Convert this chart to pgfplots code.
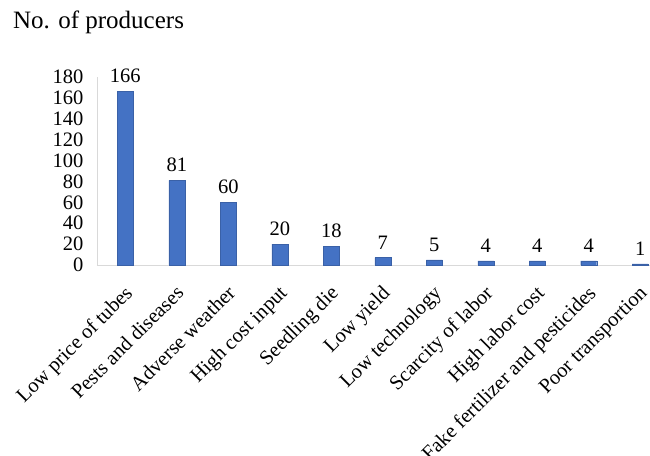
\documentclass[border=0pt]{standalone}
\usepackage{pgfplots}
\pgfplotsset{compat=1.18}
\usepackage{fontspec}
\setmainfont{Liberation Serif}
\definecolor{barblue}{HTML}{4472C4}
\definecolor{axgray}{HTML}{D9D9D9}
\begin{document}
\begin{tikzpicture}[x=1bp,y=1bp]
\useasboundingbox (-97,-191) rectangle (553,265);
\begin{axis}[
  at={(0,0)}, anchor=south west,
  scale only axis, width=553bp, height=188bp,
  xmin=-0.55, xmax=10.19, ymin=0, ymax=180,
  ytick={0,20,...,180},
  xtick={0,...,10},
  xticklabels={Low price of tubes,Pests and diseases,Adverse weather,High cost input,Seedling die,Low yield,Low technology,Scarcity of labor,High labor cost,Fake fertilizer and pesticides,Poor transportion},
  x tick label style={anchor=north east, font=\fontsize{20.5bp}{24bp}\selectfont, inner sep=0pt, xshift=-2bp, yshift=-19bp, rotate=45},
  y tick label style={font=\fontsize{20.5bp}{24bp}\selectfont, xshift=-10bp},
  /pgf/number format/assume math mode=true,
  major tick length=0pt,
  axis x line*=bottom, axis y line*=left,
  axis line style={axgray, line width=0.8bp},
  every outer x axis line/.append style={-}, every outer y axis line/.append style={-},
  ybar, bar width=16bp,
  nodes near coords,
  every node near coord/.append style={font=\fontsize{20.5bp}{24bp}\selectfont, black, yshift=5bp},
  clip=false,
]
\addplot[fill=barblue, draw=barblue!85!black, line width=0.4bp] coordinates {
(0,166) (1,81) (2,60) (3,20) (4,18) (5,7) (6,5) (7,4) (8,4) (9,4) (10,1)};
\end{axis}
\node[anchor=west, font=\fontsize{25bp}{29bp}\selectfont, inner sep=0pt] at (-84,243) {No. of producers};
\end{tikzpicture}
\end{document}
